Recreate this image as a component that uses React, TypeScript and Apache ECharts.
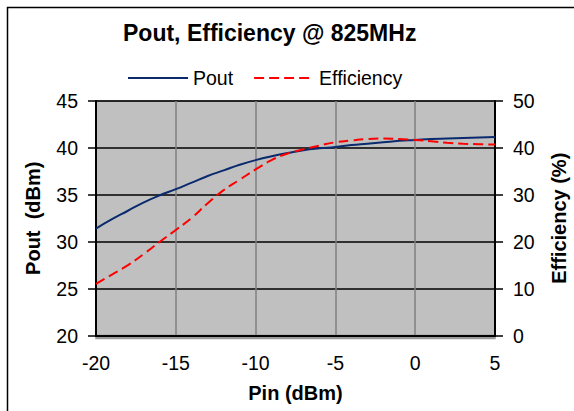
import React, { useEffect, useRef } from "react";
import * as echarts from "echarts";

const pin = [-20, -19, -18, -17, -16, -15, -14, -13, -12, -11, -10, -9, -8, -7, -6, -5, -4, -3, -2, -1, 0, 1, 2, 3, 4, 5];
const pout = [31.4, 32.4, 33.3, 34.2, 34.95, 35.6, 36.3, 37.0, 37.6, 38.2, 38.7, 39.1, 39.45, 39.75, 39.95, 40.1, 40.3, 40.45, 40.6, 40.75, 40.85, 40.95, 41.0, 41.05, 41.1, 41.15];
const efficiency = [11.0, 13.0, 15.0, 17.4, 20.0, 22.5, 25.1, 28.2, 31.0, 33.2, 35.4, 37.4, 38.8, 39.7, 40.5, 41.2, 41.6, 41.9, 42.0, 41.9, 41.7, 41.4, 41.1, 40.9, 40.8, 40.7];

const titleText = "Pout, Efficiency @ 825MHz";
const seriesNames = ["Pout", "Efficiency"];
const xName = "Pin (dBm)";
const yLeftName = "Pout  (dBm)";
const yRightName = "Efficiency (%)";

const FONT = "'Liberation Sans', Arial, sans-serif";

export default function App() {
  const ref = useRef<HTMLDivElement>(null);
  useEffect(() => {
    if (!ref.current) return;
    const chart = echarts.init(ref.current, null, { renderer: "svg" });
    chart.setOption({
      animation: false,
      backgroundColor: "#ffffff",
      textStyle: { fontFamily: FONT },
      title: {
        text: titleText,
        left: 118,
        top: 16,
        textStyle: { fontFamily: FONT, fontSize: 23, fontWeight: "bold", color: "#000" },
      },
      legend: {
        left: 122,
        top: 63,
        itemWidth: 60,
        itemHeight: 14,
        itemGap: 20,
        itemStyle: { opacity: 0 },
        textStyle: { fontFamily: FONT, fontSize: 19.5, color: "#000" },
        data: seriesNames,
      },
      grid: {
        show: true,
        left: 96,
        right: 79,
        top: 101,
        bottom: 75.5,
        outerBoundsMode: "none",
        containLabel: false,
        backgroundColor: "#c0c0c0",
        borderColor: "#808080",
        borderWidth: 1.5,
        shadowColor: "#9a9a9a",
        shadowOffsetY: 3,
        shadowOffsetX: 0,
        shadowBlur: 0,
      },
      graphic: [
        {
          type: "rect",
          shape: { x: 7.5, y: 7.5, width: 620, height: 620 },
          style: { fill: "none", stroke: "#000", lineWidth: 1.5 },
          silent: true,
        },
      ],
      xAxis: {
        type: "value",
        min: -20,
        max: 5,
        interval: 5,
        name: xName,
        nameLocation: "middle",
        nameGap: 47,
        nameTextStyle: { fontFamily: FONT, fontSize: 20, fontWeight: "bold", color: "#000" },
        axisLine: { show: true, onZero: false, lineStyle: { color: "#000", width: 2 } },
        axisTick: { show: false },
        axisLabel: { margin: 17, fontFamily: FONT, fontSize: 19.5, color: "#000" },
        splitLine: { show: true, lineStyle: { color: "#808080", width: 1.5 } },
      },
      yAxis: [
        {
          type: "value",
          min: 20,
          max: 45,
          interval: 5,
          position: "left",
          name: yLeftName,
          nameLocation: "middle",
          nameRotate: 90,
          nameGap: 53,
          nameTextStyle: { fontFamily: FONT, fontSize: 20, fontWeight: "bold", color: "#000" },
          axisLine: { show: true, onZero: false, lineStyle: { color: "#000", width: 2 } },
          axisTick: { show: true, length: 8, lineStyle: { color: "#000", width: 1.5 } },
          axisLabel: { margin: 18, fontFamily: FONT, fontSize: 19.5, color: "#000" },
          splitLine: { show: true, lineStyle: { color: "#000", width: 1.5 } },
        },
        {
          type: "value",
          min: 0,
          max: 50,
          interval: 10,
          position: "right",
          name: yRightName,
          nameLocation: "middle",
          nameRotate: 90,
          nameGap: 54,
          nameTextStyle: { fontFamily: FONT, fontSize: 20, fontWeight: "bold", color: "#000" },
          axisLine: { show: true, onZero: false, lineStyle: { color: "#000", width: 2 } },
          axisTick: { show: true, length: 8, lineStyle: { color: "#000", width: 1.5 } },
          axisLabel: { margin: 18, fontFamily: FONT, fontSize: 19.5, color: "#000" },
          splitLine: { show: false },
        },
      ],
      series: [
        {
          name: seriesNames[0],
          type: "line",
          yAxisIndex: 0,
          smooth: true,
          symbol: "none",
          data: pin.map((x, i) => [x, pout[i]]),
          lineStyle: { color: "#0a2a6e", width: 2 },
          itemStyle: { color: "#0a2a6e" },
        },
        {
          name: seriesNames[1],
          type: "line",
          yAxisIndex: 1,
          smooth: true,
          symbol: "none",
          data: pin.map((x, i) => [x, efficiency[i]]),
          lineStyle: { color: "#ff0000", width: 2, type: [10, 5] },
          itemStyle: { color: "#ff0000" },
        },
      ],
    });
    return () => chart.dispose();
  }, []);
  return (
    <div
      ref={ref}
      style={{ position: "fixed", left: 0, top: 0, width: 574, height: 411 }}
    />
  );
}
